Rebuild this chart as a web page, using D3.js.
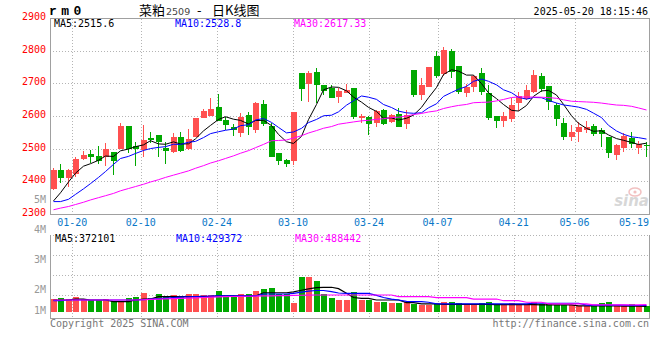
<!DOCTYPE html>
<html>
<head>
<meta charset="utf-8">
<script src="https://cdn.jsdelivr.net/npm/d3@7"></script>
<style>
  body { margin: 0; background: #fff; }
  text { font-family: "DejaVu Sans Mono", monospace; font-size: 10px; }
</style>
</head>
<body>
<div id="chart"></div>
<script>
// trading days shown, 01-15 .. 05-20
const dates = ["01-15","01-16","01-17","01-20","01-21","01-22","01-23","01-24","01-27",
  "02-05","02-06","02-07","02-10","02-11","02-12","02-13","02-14","02-17","02-18","02-19","02-20","02-21","02-24","02-25","02-26","02-27","02-28",
  "03-03","03-04","03-05","03-06","03-07","03-10","03-11","03-12","03-13","03-14","03-17","03-18","03-19","03-20","03-21","03-24","03-25","03-26","03-27","03-28","03-31",
  "04-01","04-02","04-03","04-07","04-08","04-09","04-10","04-11","04-14","04-15","04-16","04-17","04-18","04-21","04-22","04-23","04-24","04-25","04-28","04-29","04-30",
  "05-06","05-07","05-08","05-09","05-12","05-13","05-14","05-15","05-16","05-19","05-20"];

const open  = [2377,2435,2411,2423,2469,2484,2478,2476,2489,2500,2568,2508,2496,2534,2542,2503,2491,2537,2500,2537,
  2595,2599,2628,2588,2567,2547,2603,2557,2637,2570,2486,2466,2463,2733,2697,2735,2695,2685,2659,2669,
  2685,2593,2598,2580,2619,2583,2606,2576,2741,2664,2690,2784,2729,2800,2753,2669,2690,2733,2670,2600,
  2586,2591,2639,2652,2675,2723,2692,2634,2578,2537,2552,2557,2570,2557,2537,2481,2503,2534,2503,2511];
const high  = [2441,2453,2437,2474,2494,2496,2508,2516,2491,2578,2570,2519,2572,2552,2542,2519,2547,2550,2560,2595,
  2621,2655,2667,2598,2576,2608,2613,2642,2649,2578,2486,2468,2613,2733,2739,2746,2695,2695,2687,2698,
  2687,2605,2601,2619,2621,2605,2624,2619,2741,2715,2751,2800,2810,2805,2753,2698,2726,2746,2695,2600,
  2613,2654,2675,2695,2741,2731,2693,2639,2595,2573,2583,2585,2576,2562,2537,2514,2547,2552,2524,2519];
const low   = [2374,2394,2384,2414,2466,2455,2453,2447,2418,2500,2486,2448,2476,2516,2476,2453,2486,2489,2496,2537,
  2595,2599,2585,2557,2539,2535,2542,2549,2570,2473,2450,2445,2450,2646,2642,2641,2664,2656,2639,2669,
  2591,2578,2542,2567,2572,2578,2565,2559,2657,2649,2690,2715,2721,2715,2667,2657,2675,2664,2588,2564,
  2567,2583,2616,2649,2670,2672,2618,2568,2527,2525,2519,2549,2539,2506,2471,2466,2491,2501,2484,2476];
const close = [2435,2411,2435,2469,2482,2473,2463,2500,2463,2568,2500,2500,2527,2527,2519,2494,2537,2494,2530,2595,
  2616,2621,2585,2572,2557,2598,2565,2639,2575,2476,2463,2453,2613,2683,2733,2695,2677,2656,2678,2680,
  2598,2600,2576,2616,2576,2603,2567,2603,2664,2695,2751,2723,2802,2736,2675,2690,2723,2672,2595,2586,
  2600,2634,2661,2680,2726,2683,2642,2590,2537,2552,2567,2565,2545,2545,2488,2511,2539,2513,2513,2508];

// moving-average values at the left edge (their windows start before the first day shown)
const ma5Lead  = [2340,2365,2398,2425];
const ma10Lead = [2338,2338,2345,2360,2377,2393,2412,2430,2452];
const ma30Lead = [2313,2318,2323,2329,2336,2343,2350,2356,2363,2371,2378,2384,2391,2398,2405,
  2412,2419,2425,2432,2440,2448,2456,2463,2470,2478,2486,2494,2503,2513];

const volume = [890000,960000,890000,1040000,890000,800000,800000,890000,770000,770000,
  960000,1040000,1320000,960000,1250000,1040000,1180000,1110000,1250000,1250000,
  1180000,1180000,1460000,1110000,1110000,1250000,1250000,1460000,1610000,1680000,
  1250000,1250000,610000,2460000,2460000,2180000,1250000,960000,820000,820000,
  1390000,820000,820000,680000,680000,610000,610000,680000,540000,460000,
  460000,540000,680000,680000,610000,460000,460000,610000,680000,460000,
  460000,610000,540000,540000,680000,540000,540000,460000,460000,460000,
  390000,390000,390000,610000,680000,390000,390000,540000,390000,390000];

const volMa5 = [820000,820000,820000,890000,890000,820000,820000,820000,700000,700000,
  700000,820000,890000,890000,1060000,1060000,1060000,1060000,1060000,1060000,
  1060000,1060000,1110000,1110000,1110000,1110000,1110000,1110000,1340000,1340000,
  1340000,1340000,1400000,1520000,1620000,1700000,1730000,1730000,1630000,1300000,
  1000000,940000,940000,820000,820000,820000,820000,630000,630000,540000,
  540000,540000,510000,510000,510000,510000,510000,510000,510000,490000,
  490000,490000,490000,490000,490000,470000,470000,470000,470000,470000,
  400000,400000,400000,400000,400000,400000,380000,380000,380000,372101];
const volMa10 = [770000,770000,820000,820000,820000,820000,820000,820000,820000,820000,
  820000,820000,850000,890000,920000,960000,990000,1020000,1050000,1070000,
  1090000,1100000,1110000,1110000,1110000,1110000,1110000,1110000,1250000,1250000,
  1250000,1250000,1300000,1380000,1450000,1500000,1500000,1420000,1320000,1300000,
  1300000,1300000,1300000,1150000,1000000,880000,820000,720000,700000,700000,
  660000,540000,540000,540000,540000,540000,540000,540000,540000,540000,
  540000,540000,540000,540000,590000,590000,590000,590000,590000,590000,
  590000,460000,460000,460000,460000,460000,460000,430000,430000,429372];
const volMa30 = [820000,820000,820000,820000,820000,820000,820000,820000,820000,820000,
  820000,820000,840000,860000,880000,900000,920000,940000,960000,980000,
  1000000,1020000,1040000,1060000,1070000,1080000,1090000,1100000,1110000,1120000,
  1130000,1140000,1150000,1160000,1170000,1180000,1180000,1180000,1180000,1180000,
  1180000,1180000,1180000,1180000,1180000,1180000,1060000,1060000,1060000,1060000,
  1060000,990000,990000,990000,990000,990000,890000,890000,890000,890000,
  770000,770000,770000,660000,660000,660000,540000,540000,540000,540000,
  540000,540000,470000,470000,470000,470000,470000,470000,470000,488442];

const priceTicks = [2900,2800,2700,2600,2500,2400,2300];
const volTicks = [5,4,3,2,1];
const dateTicks = ["01-20","02-10","02-24","03-10","03-24","04-07","04-21","05-06","05-19"];
const maNames = ["MA5","MA10","MA30"];
const maColors = ["#000000","#0000ff","#ff00ff"];
const priceMaText = ["2515.6","2528.8","2617.33"];
const volMaText = ["372101","429372","488442"];

const UP = "#ff5050", DOWN = "#00a800", GRID = "#b4b4b4", BORDER = "#a0a0a0";

const svg = d3.select("#chart").append("svg")
    .attr("width", 660)
    .attr("height", 360);

const x = d3.scaleBand().domain(dates).range([49.25, 649.25]).paddingInner(0.24).paddingOuter(0.12);
const xGrid = d3.scalePoint().domain(dates).range([49.5, 650.6]);
const y = d3.scaleLinear().domain([2300, 2900]).range([214, 18]);
const yVol = d3.scaleLinear().domain([0, 1000000]).range([311.5, 297.5]);
const yVolLabel = d3.scaleLinear().domain([5, 2]).range([203, 293]);
const yVolGrid = d3.scaleLinear().domain([0, 4]).range([235.3, 315.3]);

const cx = d => Math.round(x(d) + x.bandwidth() / 2);

function movingAvg(n, lead) {
  return close.map((c, i) => i < n - 1 ? lead[i] : d3.mean(close.slice(i - n + 1, i + 1)));
}
const priceMa = [movingAvg(5, ma5Lead), movingAvg(10, ma10Lead), movingAvg(30, ma30Lead)];
const volMa = [volMa5, volMa10, volMa30];

// ---------- header ----------
svg.append("text").attr("x", 49).attr("y", 15)
    .style("font-family", "Liberation Mono").style("font-weight", "bold").style("font-size", "13px")
    .style("letter-spacing", "4.5px").text("rm0");

const title = svg.append("text").attr("y", 15).style("font-family", "Noto Sans CJK SC").style("font-size", "13px");
title.append("tspan").attr("x", 139).text("菜粕");
title.append("tspan").attr("x", 166).style("font-family", "DejaVu Sans").style("font-size", "9.5px").attr("fill", "#444").text("2509");
title.append("tspan").attr("x", 197).text("-");
title.append("tspan").attr("x", 212).text("日K线图");

svg.append("text").attr("x", 648).attr("y", 15).attr("text-anchor", "end").text("2025-05-20 18:15:46");

// ---------- grid ----------
const grid = svg.append("g").attr("shape-rendering", "crispEdges")
    .attr("stroke", GRID).attr("stroke-dasharray", "1,2");

grid.selectAll(".hgrid").data(priceTicks.slice(1, -1)).join("line")
    .attr("x1", 50).attr("x2", 649)
    .attr("y1", d => Math.round(y(d)) + 0.5).attr("y2", d => Math.round(y(d)) + 0.5);

grid.selectAll(".vgrid").data(dateTicks.filter(d => xGrid(d) < 640)).join("line")
    .attr("x1", d => Math.round(xGrid(d)) + 0.5).attr("x2", d => Math.round(xGrid(d)) + 0.5)
    .attr("y1", 19).attr("y2", 214);

grid.selectAll(".vgrid2").data(dateTicks.filter(d => xGrid(d) < 640)).join("line")
    .attr("x1", d => Math.round(xGrid(d)) + 0.5).attr("x2", d => Math.round(xGrid(d)) + 0.5)
    .attr("y1", 235).attr("y2", 318);

grid.selectAll(".vhgrid").data([0, 1, 2, 3]).join("line")
    .attr("x1", 50).attr("x2", 649)
    .attr("y1", d => Math.round(yVolGrid(d)) + 0.5).attr("y2", d => Math.round(yVolGrid(d)) + 0.5);

// ---------- borders ----------
const border = svg.append("g").attr("shape-rendering", "crispEdges").attr("stroke", BORDER).attr("fill", "none");
border.append("path").attr("d", "M50.5,18.5H649.5V214.5H50.5Z");
border.append("path").attr("d", "M50.5,234.5V318.5H649.5V234.5");

// ---------- candles ----------
const idx = d3.range(dates.length);
const candles = svg.append("g").attr("shape-rendering", "crispEdges");

candles.selectAll(".wick").data(idx).join("line")
    .attr("x1", i => cx(dates[i]) + 0.5).attr("x2", i => cx(dates[i]) + 0.5)
    .attr("y1", i => y(high[i])).attr("y2", i => y(low[i]))
    .attr("stroke", i => close[i] >= open[i] ? UP : DOWN);

candles.selectAll(".body").data(idx).join("rect")
    .attr("x", i => cx(dates[i]) - 2.5)
    .attr("width", 6)
    .attr("y", i => y(Math.max(open[i], close[i])))
    .attr("height", i => Math.max(1, Math.abs(y(open[i]) - y(close[i]))))
    .attr("fill", i => close[i] >= open[i] ? UP : DOWN);

// ---------- price MA lines ----------
priceMa.forEach((series, k) => {
  svg.append("path").datum(series)
      .attr("fill", "none").attr("stroke", maColors[k]).attr("stroke-width", 1)
      .attr("d", d3.line().x((v, i) => cx(dates[i]) + 0.5).y(v => y(v)));
});

// ---------- volume ----------
const vols = svg.append("g").attr("shape-rendering", "crispEdges");
vols.selectAll(".vbar").data(idx).join("rect")
    .attr("x", i => cx(dates[i]) - 2.5)
    .attr("width", 6)
    .attr("y", i => yVol(volume[i]))
    .attr("height", i => yVol(0) - yVol(volume[i]))
    .attr("fill", i => close[i] >= open[i] ? UP : DOWN);

volMa.forEach((series, k) => {
  svg.append("path").datum(series)
      .attr("fill", "none").attr("stroke", maColors[k]).attr("stroke-width", 1.2)
      .attr("d", d3.line().x((v, i) => cx(dates[i]) + 0.5).y(v => yVol(v)));
});

// ---------- labels ----------
svg.selectAll(".plabel").data(priceTicks).join("text")
    .attr("x", 46).attr("y", d => y(d) + 2)
    .attr("text-anchor", "end").attr("fill", "#ff0000")
    .text(d => d);

svg.selectAll(".vlabel").data(volTicks).join("text")
    .attr("x", 46).attr("y", d => Math.min(yVolLabel(d), 314))
    .attr("text-anchor", "end").attr("fill", "#999")
    .text(d => d + "M");

svg.selectAll(".xlabel").data(dateTicks).join("text")
    .attr("x", d => Math.min(xGrid(d), 634)).attr("y", 226)
    .attr("text-anchor", "middle").attr("fill", "#0a78c8")
    .text(d => d);

const legendX = [54, 175, 294];
maNames.forEach((name, k) => {
  svg.append("text").attr("x", legendX[k]).attr("y", 27).attr("fill", maColors[k])
      .text(name + ":" + priceMaText[k]);
  svg.append("text").attr("x", legendX[k] + 1).attr("y", 242).attr("fill", maColors[k])
      .text(name + ":" + volMaText[k]);
});

// ---------- footer / watermark ----------
svg.append("text").attr("x", 50).attr("y", 327).attr("fill", "#777").text("Copyright 2025 SINA.COM");
svg.append("text").attr("x", 649).attr("y", 327).attr("text-anchor", "end").attr("fill", "#777").text("http://finance.sina.com.cn");

const wm = svg.append("g").attr("opacity", 0.55);
wm.append("ellipse").attr("cx", 635).attr("cy", 192).attr("rx", 6).attr("ry", 4)
    .attr("fill", "none").attr("stroke", "#e89090").attr("stroke-width", 1.5);
wm.append("circle").attr("cx", 635).attr("cy", 192).attr("r", 1.6).attr("fill", "#e89090");
wm.append("text").attr("x", 649).attr("y", 206).attr("text-anchor", "end")
    .style("font-family", "DejaVu Sans").style("font-size", "15px").style("font-weight", "bold").style("font-style", "italic")
    .attr("fill", "#b8b8b8").text("sina");
</script>
</body>
</html>
